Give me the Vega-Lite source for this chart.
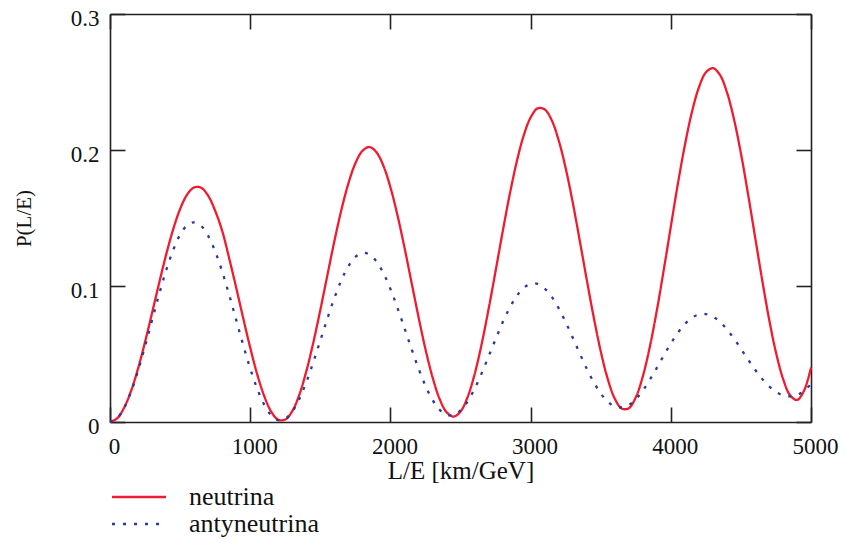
{
 "$schema": "https://vega.github.io/schema/vega-lite/v6.json",
 "width": 701,
 "height": 408,
 "autosize": "none",
 "padding": {"left": 110, "top": 14, "right": 34, "bottom": 121},
 "background": "white",
 "config": {"view": {"stroke": null}, "font": "Liberation Serif", "axis": {"labelFont": "Liberation Serif", "titleFont": "Liberation Serif"}, "legend": {"labelFont": "Liberation Serif"}},
 "data": {"values": [
  {"x":0,"neutrina":0,"antyneutrina":0},
  {"x":50,"neutrina":0.0026,"antyneutrina":0.0026},
  {"x":100,"neutrina":0.0104,"antyneutrina":0.0102},
  {"x":150,"neutrina":0.0228,"antyneutrina":0.0222},
  {"x":200,"neutrina":0.0393,"antyneutrina":0.0377},
  {"x":250,"neutrina":0.0589,"antyneutrina":0.0557},
  {"x":300,"neutrina":0.0802,"antyneutrina":0.0748},
  {"x":350,"neutrina":0.1020,"antyneutrina":0.0938},
  {"x":400,"neutrina":0.1229,"antyneutrina":0.1113},
  {"x":450,"neutrina":0.1415,"antyneutrina":0.1263},
  {"x":500,"neutrina":0.1566,"antyneutrina":0.1376},
  {"x":550,"neutrina":0.1672,"antyneutrina":0.1446},
  {"x":600,"neutrina":0.1725,"antyneutrina":0.1468},
  {"x":650,"neutrina":0.1723,"antyneutrina":0.1442},
  {"x":700,"neutrina":0.1664,"antyneutrina":0.1369},
  {"x":750,"neutrina":0.1553,"antyneutrina":0.1255},
  {"x":800,"neutrina":0.1406,"antyneutrina":0.1107},
  {"x":850,"neutrina":0.1204,"antyneutrina":0.0935},
  {"x":900,"neutrina":0.0988,"antyneutrina":0.0751},
  {"x":950,"neutrina":0.0764,"antyneutrina":0.0567},
  {"x":1000,"neutrina":0.0547,"antyneutrina":0.0394},
  {"x":1050,"neutrina":0.0351,"antyneutrina":0.0245},
  {"x":1100,"neutrina":0.0191,"antyneutrina":0.0127},
  {"x":1150,"neutrina":0.0076,"antyneutrina":0.0049},
  {"x":1200,"neutrina":0.0017,"antyneutrina":0.0014},
  {"x":1250,"neutrina":0.0018,"antyneutrina":0.0023},
  {"x":1300,"neutrina":0.0080,"antyneutrina":0.0077},
  {"x":1350,"neutrina":0.0200,"antyneutrina":0.0169},
  {"x":1400,"neutrina":0.0372,"antyneutrina":0.0292},
  {"x":1450,"neutrina":0.0584,"antyneutrina":0.0439},
  {"x":1500,"neutrina":0.0824,"antyneutrina":0.0598},
  {"x":1550,"neutrina":0.1077,"antyneutrina":0.0759},
  {"x":1600,"neutrina":0.1328,"antyneutrina":0.0910},
  {"x":1650,"neutrina":0.1558,"antyneutrina":0.1042},
  {"x":1700,"neutrina":0.1753,"antyneutrina":0.1145},
  {"x":1750,"neutrina":0.1902,"antyneutrina":0.1214},
  {"x":1800,"neutrina":0.1993,"antyneutrina":0.1243},
  {"x":1850,"neutrina":0.2022,"antyneutrina":0.1232},
  {"x":1900,"neutrina":0.1984,"antyneutrina":0.1181},
  {"x":1950,"neutrina":0.1884,"antyneutrina":0.1095},
  {"x":2000,"neutrina":0.1726,"antyneutrina":0.0979},
  {"x":2050,"neutrina":0.1522,"antyneutrina":0.0841},
  {"x":2100,"neutrina":0.1285,"antyneutrina":0.0692},
  {"x":2150,"neutrina":0.1030,"antyneutrina":0.0540},
  {"x":2200,"neutrina":0.0775,"antyneutrina":0.0395},
  {"x":2250,"neutrina":0.0536,"antyneutrina":0.0267},
  {"x":2300,"neutrina":0.0331,"antyneutrina":0.0163},
  {"x":2350,"neutrina":0.0172,"antyneutrina":0.0091},
  {"x":2400,"neutrina":0.0073,"antyneutrina":0.0053},
  {"x":2450,"neutrina":0.0040,"antyneutrina":0.0051},
  {"x":2500,"neutrina":0.0077,"antyneutrina":0.0085},
  {"x":2550,"neutrina":0.0182,"antyneutrina":0.0151},
  {"x":2600,"neutrina":0.0349,"antyneutrina":0.0243},
  {"x":2650,"neutrina":0.0569,"antyneutrina":0.0356},
  {"x":2700,"neutrina":0.0828,"antyneutrina":0.0481},
  {"x":2750,"neutrina":0.1109,"antyneutrina":0.0608},
  {"x":2800,"neutrina":0.1395,"antyneutrina":0.0731},
  {"x":2850,"neutrina":0.1668,"antyneutrina":0.0838},
  {"x":2900,"neutrina":0.1909,"antyneutrina":0.0925},
  {"x":2950,"neutrina":0.2104,"antyneutrina":0.0986},
  {"x":3000,"neutrina":0.2239,"antyneutrina":0.1016},
  {"x":3050,"neutrina":0.2306,"antyneutrina":0.1015},
  {"x":3100,"neutrina":0.2299,"antyneutrina":0.0982},
  {"x":3150,"neutrina":0.2220,"antyneutrina":0.0922},
  {"x":3200,"neutrina":0.2072,"antyneutrina":0.0837},
  {"x":3250,"neutrina":0.1867,"antyneutrina":0.0735},
  {"x":3300,"neutrina":0.1617,"antyneutrina":0.0622},
  {"x":3350,"neutrina":0.1337,"antyneutrina":0.0505},
  {"x":3400,"neutrina":0.1049,"antyneutrina":0.0393},
  {"x":3450,"neutrina":0.0771,"antyneutrina":0.0293},
  {"x":3500,"neutrina":0.0521,"antyneutrina":0.0210},
  {"x":3550,"neutrina":0.0317,"antyneutrina":0.0150},
  {"x":3600,"neutrina":0.0173,"antyneutrina":0.0115},
  {"x":3650,"neutrina":0.0099,"antyneutrina":0.0107},
  {"x":3700,"neutrina":0.0101,"antyneutrina":0.0125},
  {"x":3750,"neutrina":0.0181,"antyneutrina":0.0168},
  {"x":3800,"neutrina":0.0334,"antyneutrina":0.0231},
  {"x":3850,"neutrina":0.0551,"antyneutrina":0.0310},
  {"x":3900,"neutrina":0.0818,"antyneutrina":0.0398},
  {"x":3950,"neutrina":0.1120,"antyneutrina":0.0489},
  {"x":4000,"neutrina":0.1436,"antyneutrina":0.0577},
  {"x":4050,"neutrina":0.1749,"antyneutrina":0.0656},
  {"x":4100,"neutrina":0.2034,"antyneutrina":0.0720},
  {"x":4150,"neutrina":0.2276,"antyneutrina":0.0766},
  {"x":4200,"neutrina":0.2459,"antyneutrina":0.0791},
  {"x":4250,"neutrina":0.2570,"antyneutrina":0.0794},
  {"x":4300,"neutrina":0.2602,"antyneutrina":0.0775},
  {"x":4350,"neutrina":0.2553,"antyneutrina":0.0737},
  {"x":4400,"neutrina":0.2426,"antyneutrina":0.0681},
  {"x":4450,"neutrina":0.2229,"antyneutrina":0.0614},
  {"x":4500,"neutrina":0.1976,"antyneutrina":0.0539},
  {"x":4550,"neutrina":0.1682,"antyneutrina":0.0461},
  {"x":4600,"neutrina":0.1368,"antyneutrina":0.0386},
  {"x":4650,"neutrina":0.1055,"antyneutrina":0.0319},
  {"x":4700,"neutrina":0.0762,"antyneutrina":0.0263},
  {"x":4750,"neutrina":0.0512,"antyneutrina":0.0222},
  {"x":4800,"neutrina":0.0320,"antyneutrina":0.0196},
  {"x":4850,"neutrina":0.0198,"antyneutrina":0.0189},
  {"x":4900,"neutrina":0.0162,"antyneutrina":0.0197},
  {"x":4950,"neutrina":0.0230,"antyneutrina":0.0230},
  {"x":5000,"neutrina":0.0400,"antyneutrina":0.0280}
 ]},
 "transform": [{"fold": ["neutrina", "antyneutrina"], "as": ["series", "p"]}],
 "layer": [
  {
   "mark": {"type": "line", "interpolate": "catmull-rom", "strokeWidth": 2.3},
   "encoding": {
    "x": {"field": "x", "type": "quantitative",
     "scale": {"domain": [0, 5000], "nice": false, "zero": false},
     "axis": {"orient": "bottom", "values": [0,1000,2000,3000,4000,5000], "format": "d",
      "tickSize": -15, "labelPadding": 28, "labelOffset": 4, "labelFlush": false, "labelOverlap": false,
      "labelFontSize": 23, "labelColor": "#111", "labelFont": "Liberation Serif",
      "domainColor": "#222", "domainWidth": 1.6, "tickColor": "#222", "tickWidth": 1.6, "grid": false,
      "title": "L/E [km/GeV]", "titleFontSize": 25, "titleFontWeight": "normal", "titleColor": "#111",
      "titleFont": "Liberation Serif", "titlePadding": 0}},
    "y": {"field": "p", "type": "quantitative",
     "scale": {"domain": [0, 0.3], "nice": false, "zero": false},
     "axis": {"orient": "left", "values": [0, 0.1, 0.2, 0.3], "format": "~g",
      "tickSize": -15, "labelPadding": 26, "labelOffset": 4, "labelFlush": false, "labelOverlap": false,
      "labelFontSize": 23, "labelColor": "#111", "labelFont": "Liberation Serif",
      "domainColor": "#222", "domainWidth": 1.6, "tickColor": "#222", "tickWidth": 1.6, "grid": false,
      "title": "P(L/E)", "titleFontSize": 21, "titleFontWeight": "normal", "titleColor": "#111",
      "titleFont": "Liberation Serif", "titlePadding": 36}},
    "color": {"field": "series", "type": "nominal",
     "scale": {"domain": ["neutrina", "antyneutrina"], "range": ["#ee1c2e", "#2a3a9c"]},
     "legend": {"title": null, "orient": "none", "legendX": 16, "legendY": 470, "symbolType": "M-5.4,0H5.4",
      "symbolSize": 100, "symbolStrokeWidth": 2.3, "labelFontSize": 26, "labelFont": "Liberation Serif",
      "labelColor": "#111", "labelOffset": 37, "rowPadding": 1, "direction": "vertical"}},
    "strokeDash": {"field": "series", "type": "nominal",
     "scale": {"domain": ["neutrina", "antyneutrina"], "range": [[1, 0], [3, 8]]},
     "legend": {"title": null, "orient": "none", "legendX": 16, "legendY": 470, "symbolType": "M-5.4,0H5.4",
      "symbolSize": 100, "symbolStrokeWidth": 2.3, "labelFontSize": 26, "labelFont": "Liberation Serif",
      "labelColor": "#111", "labelOffset": 37, "rowPadding": 1, "direction": "vertical"}}
   }
  },
  {
   "mark": {"type": "line", "opacity": 0},
   "encoding": {
    "x": {"field": "x", "type": "quantitative",
     "axis": {"orient": "top", "values": [0,1000,2000,3000,4000,5000], "labels": false, "title": null,
      "tickSize": -15, "domainColor": "#222", "domainWidth": 1.6, "tickColor": "#222", "tickWidth": 1.6, "grid": false}},
    "y": {"field": "p", "type": "quantitative",
     "axis": {"orient": "right", "values": [0, 0.1, 0.2, 0.3], "labels": false, "title": null,
      "tickSize": -15, "domainColor": "#222", "domainWidth": 1.6, "tickColor": "#222", "tickWidth": 1.6, "grid": false}},
    "detail": {"field": "series"}
   }
  }
 ],
 "resolve": {"axis": {"x": "independent", "y": "independent"}}
}
